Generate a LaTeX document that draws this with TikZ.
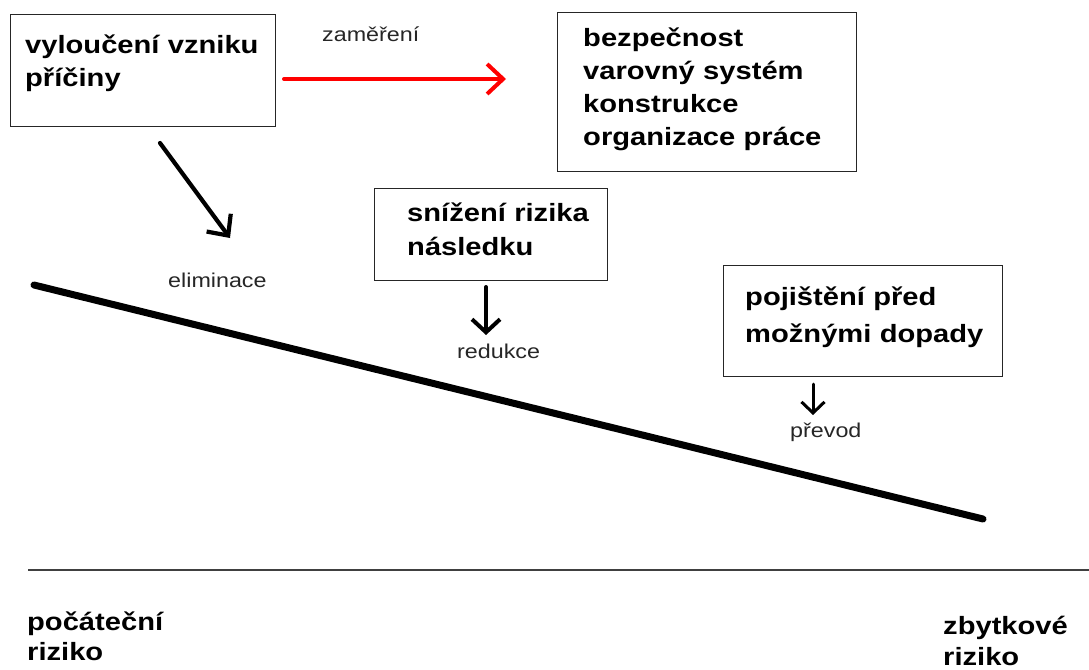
\documentclass[tikz,border=0pt]{standalone}
\usepackage{fontspec}
\setmainfont[FakeStretch=1.165]{Liberation Sans}
\usetikzlibrary{arrows.meta}
\definecolor{arrowred}{RGB}{255,0,0}
\tikzset{
  box/.style={draw=black!85, line width=1.3pt, inner sep=0pt, anchor=north west},
  headtext/.style={inner sep=0pt, anchor=base west, text width=#1, align=left,
                   font=\bfseries\fontsize{25}{33}\selectfont},
  headtext/.default=300pt,
  labeltext/.style={inner sep=0pt, anchor=base west, text=black!85,
                    font=\fontsize{20}{24}\selectfont},
}
\begin{document}
\begin{tikzpicture}[x=1pt,y=-1pt]
\useasboundingbox (0,0) rectangle (1089,669);

% boxes
\node[box, minimum width=265pt, minimum height=112pt] (causebox) at (10,14) {};
\node[box, minimum width=299pt, minimum height=159pt] (measurebox) at (557,12) {};
\node[box, minimum width=233pt, minimum height=92pt] (conseqbox) at (374,188) {};
\node[box, minimum width=279pt, minimum height=111pt] (insurebox) at (723,265) {};

% box texts
\node[headtext] (causetext) at (25,53) {vyloučení vzniku\\příčiny};
\node[headtext] (measuretext) at (583,47) {bezpečnost\\varovný systém\\konstrukce\\organizace práce};
\node[headtext, font=\bfseries\fontsize{25}{34}\selectfont] (conseqtext) at (407,221) {snížení rizika\\následku};
\node[headtext, font=\bfseries\fontsize{25}{37}\selectfont] (insuretext) at (745,305) {pojištění před\\možnými dopady};

% axis labels
\node[headtext, font=\bfseries\fontsize{25}{30}\selectfont] (initial) at (27,630) {počáteční\\riziko};
\node[headtext, font=\bfseries\fontsize{25}{31}\selectfont] (residual) at (943,634) {zbytkové\\riziko};

% arrow labels
\node[labeltext] (focus) at (322,42) {zaměření};
\node[labeltext] (elim) at (168,287) {eliminace};
\node[labeltext] (reduce) at (457,358) {redukce};
\node[labeltext] (transfer) at (790,437) {převod};

% arrow ends
\coordinate (redstart) at (284,79);
\coordinate (redend) at (506,79);
\coordinate (elimstart) at (160,143);
\coordinate (elimend) at (230,238);
\coordinate (redustart) at (486,287);
\coordinate (reduend) at (486,335);
\coordinate (transstart) at (813,384);
\coordinate (transend) at (813,415);

\draw[draw=arrowred, line width=4pt, line cap=round,
      -{Straight Barb[length=16pt, width=30pt]}] (redstart) -- (redend);
\draw[line width=4.2pt, line cap=round,
      -{Straight Barb[length=16pt, width=30pt]}] (elimstart) -- (elimend);
\draw[line width=4pt, line cap=round,
      -{Straight Barb[length=13pt, width=28pt]}] (redustart) -- (reduend);
\draw[line width=3pt, line cap=round,
      -{Straight Barb[length=11pt, width=23pt]}] (transstart) -- (transend);

% falling risk line
\coordinate (riskhigh) at (34,285);
\coordinate (risklow) at (983,519);
\draw[line width=7pt, line cap=round] (riskhigh) -- (risklow);

% baseline rule
\coordinate (ruleleft) at (28,570);
\coordinate (ruleright) at (1089,570);
\draw[line width=1.5pt, draw=black!75] (ruleleft) -- (ruleright);
\end{tikzpicture}
\end{document}
